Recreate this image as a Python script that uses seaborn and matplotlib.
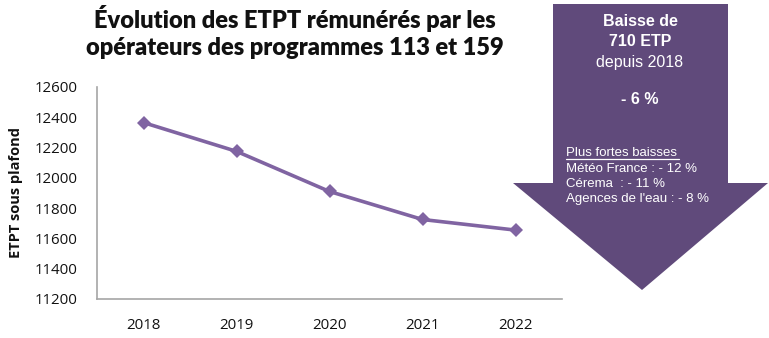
import matplotlib
matplotlib.use("Agg")
import matplotlib.pyplot as plt
import seaborn as sns
import pandas as pd
from matplotlib.patches import Polygon

years = ["2018", "2019", "2020", "2021", "2022"]
etpt = [12365, 12175, 11910, 11725, 11655]
y_ticks = [11200, 11400, 11600, 11800, 12000, 12200, 12400, 12600]

title_lines = ["Évolution des ETPT rémunérés par les",
               "opérateurs des programmes 113 et 159"]
y_label = "ETPT sous plafond"
arrow_head = ["Baisse de", "710 ETP"]
arrow_sub = "depuis 2018"
arrow_pct = "- 6 %"
detail_title = "Plus fortes baisses"
detail_lines = ["Météo France : - 12 %", "Cérema  : - 11 %", "Agences de l'eau : - 8 %"]

sns.set_theme(style="white")
plt.rcParams["font.family"] = ["Liberation Sans", "DejaVu Sans"]

line_color = "#8064A2"
arrow_color = "#604A7B"

df = pd.DataFrame({"year": years, "etpt": etpt})

W, H = 769, 338
fig = plt.figure(figsize=(W / 100, H / 100), dpi=100)
ax = fig.add_axes([97 / W, 1 - 299 / H, (562 - 97) / W, (299 - 87) / H])

sns.lineplot(data=df, x="year", y="etpt", ax=ax, color=line_color,
             linewidth=2.6, marker="D", markersize=7, markeredgewidth=0,
             sort=False)

ax.set_xlim(-0.5, len(years) - 0.5)
ax.set_ylim(y_ticks[0], y_ticks[-1])
ax.set_yticks(y_ticks)
ax.set_yticklabels([str(v) for v in y_ticks])
ax.tick_params(axis="both", length=0, labelsize=10.8, colors="#111111")
ax.tick_params(axis="y", pad=14)
ax.tick_params(axis="x", pad=14)
for lab in ax.get_xticklabels() + ax.get_yticklabels():
    lab.set_family(["Open Sans", "DejaVu Sans"])
ax.set_xlabel("")
ax.set_ylabel(y_label, fontsize=10.5, fontweight="bold", color="#111111",
              family=["Open Sans", "DejaVu Sans"], labelpad=8)
for side in ("top", "right"):
    ax.spines[side].set_visible(False)
for side in ("left", "bottom"):
    ax.spines[side].set_color("#A6A6A6")
    ax.spines[side].set_linewidth(1.2)

# Title
for i, t in enumerate(title_lines):
    fig.text(295 / W, 1 - (18 + 30 * i) / H, t, ha="center", va="center",
             fontsize=17, fontweight="heavy", color="#111111",
             family=["Lato", "DejaVu Sans"])

# Downward arrow callout (figure pixel coordinates)
pts = [(553, 4), (728, 4), (728, 183), (768, 183), (642, 290),
       (513, 183), (553, 183)]
arrow = Polygon([(x / W, 1 - y / H) for x, y in pts], closed=True,
                transform=fig.transFigure, facecolor=arrow_color,
                edgecolor="none", zorder=5)
fig.patches.append(arrow)

def ftext(x, y, s, **kw):
    fig.text(x / W, 1 - y / H, s, color="white", zorder=6, **kw)

ftext(640, 22, arrow_head[0], ha="center", va="center", fontsize=11.5, fontweight="bold")
ftext(640, 42, arrow_head[1], ha="center", va="center", fontsize=11.5, fontweight="bold")
ftext(640, 62, arrow_sub, ha="center", va="center", fontsize=11.5)
ftext(640, 99, arrow_pct, ha="center", va="center", fontsize=11.5, fontweight="bold")
ftext(566, 153, detail_title, ha="left", va="center", fontsize=9.5)
# underline of the detail heading
fig.add_artist(plt.Line2D([566 / W, 679 / W], [1 - 158.5 / H, 1 - 158.5 / H],
                          transform=fig.transFigure, color="white",
                          linewidth=0.9, zorder=6))
for i, s in enumerate(detail_lines):
    ftext(566, 169 + 15 * i, s, ha="left", va="center", fontsize=9.5)

fig.savefig("out.png", dpi=100)
